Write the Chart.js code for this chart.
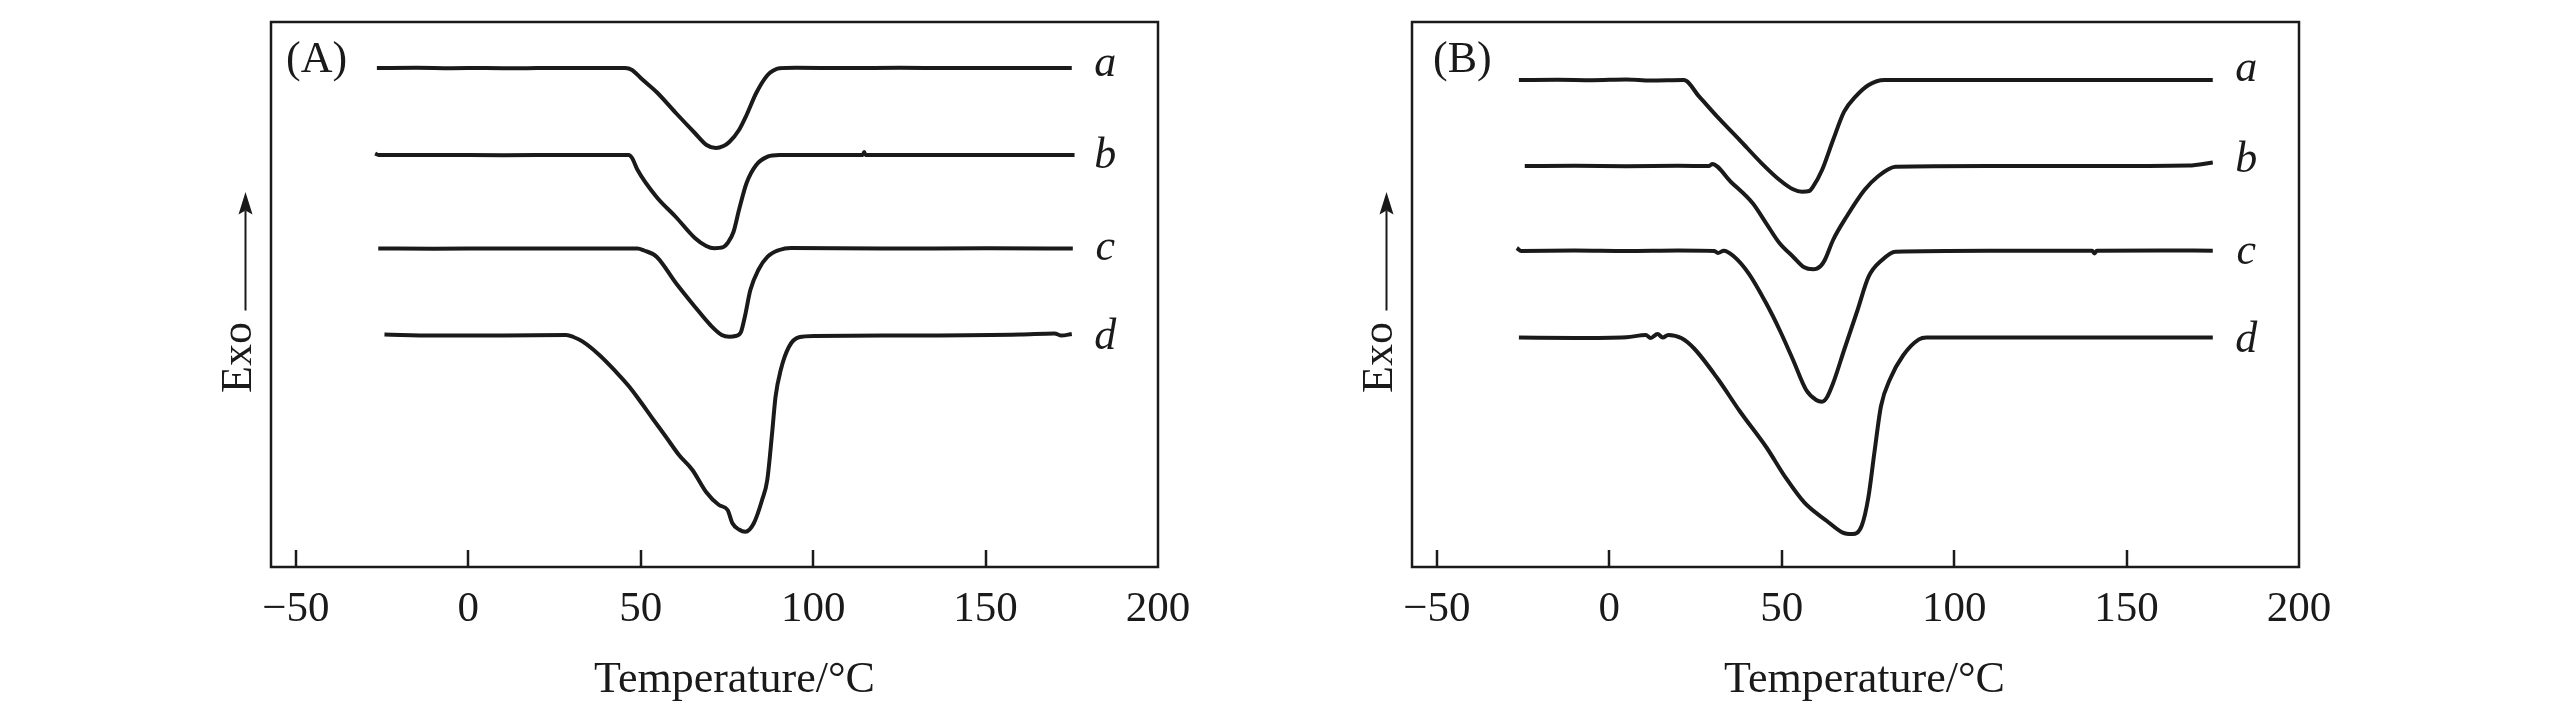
<!DOCTYPE html>
<html><head><meta charset="utf-8">
<script src="https://cdn.jsdelivr.net/npm/chart.js@4.4.0/dist/chart.umd.min.js"></script>
<style>
html,body{margin:0;padding:0;background:#fff;}
#wrap{position:relative;width:2567px;height:724px;background:#fff;}
canvas{position:absolute;top:0;}
</style></head><body>
<div id="wrap"><canvas id="cA" width="1284" height="724" style="left:0"></canvas><canvas id="cB" width="1283" height="724" style="left:1284px"></canvas></div>
<script>
const INK = '#1a1a1a';
const X_MIN = -57.2, X_MAX = 200;
const xTickStep = 50;
const curveNames = ['a', 'b', 'c', 'd'];
const xTitle = 'Temperature/°C';
const yTitle = 'Exo';

// Panel A
const A_a_T = [-26.5, -15, -5, 5, 15, 25, 35, 45.5, 47.5, 50, 54.6, 60.2, 65.7, 69.1, 71.8, 74, 75.7, 78.5, 80.7, 83.5, 86.8, 88.5, 90.2, 95, 110, 125, 140, 155, 175];
const A_a_Y = [49.9, 49.92, 49.88, 49.9, 49.87, 49.91, 49.9, 49.9, 49.7, 48.9, 47.5, 45.4, 43.4, 42.2, 41.9, 42.1, 42.5, 43.7, 45.2, 47.4, 49.2, 49.65, 49.87, 49.92, 49.9, 49.92, 49.89, 49.91, 49.9];
const A_b_T = [-27, -26, -10, 10, 30, 46.5, 47.5, 49.1, 54.6, 60.2, 65.7, 69.0, 71.3, 74, 75.2, 76.9, 78.5, 80.7, 83.5, 86.8, 90.2, 110, 114.4, 114.8, 115.2, 120, 150, 175.8];
const A_b_Y = [41.35, 41.2, 41.2, 41.18, 41.2, 41.2, 40.9, 39.7, 37.0, 35.0, 32.9, 32.1, 31.87, 32.0, 32.4, 33.5, 35.7, 38.4, 40.2, 41.03, 41.2, 41.2, 41.2, 41.5, 41.2, 41.2, 41.2, 41.2];
const A_c_T = [-26.1, -10, 10, 30, 49.0, 51, 54.6, 60.2, 65.7, 70.2, 73.5, 75.7, 77.5, 79.1, 80.2, 81.8, 84.1, 86.8, 90.2, 93.5, 120, 150, 175.3];
const A_c_Y = [31.85, 31.82, 31.86, 31.85, 31.85, 31.65, 31.03, 28.4, 26.03, 24.2, 23.2, 23.03, 23.1, 23.53, 25.03, 27.7, 29.7, 31.03, 31.7, 31.9, 31.85, 31.87, 31.85];
const A_d_T = [-24.3, -10, 10, 28.4, 30.5, 33.2, 38, 42.8, 46.7, 49.6, 53.4, 57.3, 61.1, 65, 68.9, 72.7, 75.2, 76.6, 78.5, 80.4, 82.8, 85.2, 86.7, 88.1, 89.1, 90.6, 93, 95.9, 100.7, 130, 160, 170, 172, 175];
const A_d_Y = [23.25, 23.15, 23.15, 23.2, 23.0, 22.53, 21.2, 19.53, 18.03, 16.7, 14.87, 13.03, 11.2, 9.7, 7.53, 6.2, 5.7, 4.37, 3.75, 3.53, 4.37, 6.7, 8.7, 13.37, 17.03, 19.7, 22.03, 22.97, 23.1, 23.15, 23.25, 23.35, 23.15, 23.3];

// Panel B
const B_a_T = [-26.2, -15, -5, 5, 12, 21.6, 26.1, 31.3, 37.8, 44.2, 49.4, 53.3, 55.9, 58, 59.1, 61.7, 64.9, 68.1, 71.4, 75.2, 79.8, 100, 130, 160, 175];
const B_a_Y = [48.7, 48.72, 48.68, 48.75, 48.65, 48.7, 47.03, 45.03, 42.7, 40.37, 38.7, 37.77, 37.53, 37.6, 38.03, 39.7, 42.7, 45.53, 47.03, 48.2, 48.7, 48.7, 48.7, 48.7, 48.7];
const B_b_T = [-24.5, -10, 5, 20, 29.0, 29.8, 35.2, 41.6, 45.5, 49.4, 53.3, 56.5, 59.1, 61.3, 62.5, 64.9, 68.8, 74, 77.8, 83, 110, 140, 168, 175];
const B_b_Y = [40.1, 40.12, 40.08, 40.12, 40.1, 40.3, 38.53, 36.37, 34.37, 32.37, 31.03, 29.97, 29.77, 30.1, 30.7, 32.7, 35.03, 37.7, 39.03, 40.03, 40.1, 40.1, 40.15, 40.45];
const B_c_T = [-26.8, -25.5, -10, 5, 20, 30.5, 31.5, 33.2, 36, 40.4, 45.5, 49.4, 53.3, 57.1, 60, 61.7, 63, 64.9, 68.1, 72, 75.2, 79.1, 83, 110, 140, 140.7, 141.4, 160, 175];
const B_c_Y = [31.9, 31.6, 31.65, 31.6, 31.65, 31.6, 31.4, 31.63, 31.1, 29.37, 26.37, 23.7, 20.7, 17.7, 16.7, 16.53, 16.9, 18.37, 21.7, 25.7, 29.03, 30.7, 31.53, 31.63, 31.63, 31.35, 31.63, 31.65, 31.63];
const B_d_T = [-26.2, -10, 5, 10.6, 12, 14, 15.5, 17.1, 21, 24.6, 31.5, 37.8, 45.6, 51.1, 56.6, 63.1, 67.7, 70.5, 73.2, 75.1, 76.9, 78.8, 81.5, 85.2, 89.8, 92, 120, 150, 175];
const B_d_Y = [22.95, 22.9, 22.98, 23.2, 22.9, 23.3, 22.95, 23.2, 22.87, 21.85, 18.8, 15.6, 11.95, 8.96, 6.43, 4.6, 3.44, 3.3, 4.13, 6.9, 11.5, 16.1, 18.85, 21.15, 22.76, 22.95, 22.95, 22.95, 22.95];

// curve label anchors
const labelT = 184.7;
const A_labelY = [50.13, 40.93, 31.73, 22.8];
const B_labelY = [49.6, 40.5, 31.3, 22.53];

const SERIF = "'Liberation Serif', 'Times New Roman', serif";

const decor = {
  id: 'decor',
  afterDraw(chart, args, o) {
    const {ctx, chartArea: ca} = chart;
    const x = chart.scales.x, y = chart.scales.y;
    ctx.save();
    ctx.strokeStyle = INK; ctx.fillStyle = INK;
    ctx.lineWidth = 2.5;
    ctx.strokeRect(ca.left, ca.top, ca.right - ca.left, ca.bottom - ca.top);
    // inward ticks
    x.ticks.forEach(t => {
      if (t.value >= x.max) return;
      const px = Math.round(x.getPixelForValue(t.value));
      ctx.beginPath(); ctx.moveTo(px, ca.bottom); ctx.lineTo(px, ca.bottom - 17); ctx.stroke();
    });
    // panel tag
    ctx.font = '44px ' + SERIF; ctx.textAlign = 'left'; ctx.textBaseline = 'alphabetic';
    ctx.fillText(o.tag, ca.left + o.tagDx, ca.top + 50);
    // curve labels
    ctx.font = 'italic 44px ' + SERIF; ctx.textAlign = 'center';
    curveNames.forEach((s, i) => ctx.fillText(s, x.getPixelForValue(labelT), y.getPixelForValue(o.labelY[i]) + 10));
    // x title
    ctx.font = '44px ' + SERIF; ctx.textAlign = 'center';
    ctx.fillText(xTitle, (ca.left + ca.right) / 2 + o.titleDx, 692);
    // y title with arrow
    const cy = (ca.top + ca.bottom) / 2;
    const bx = ca.left - 20;
    ctx.save();
    ctx.translate(bx, cy + 98.5);
    ctx.rotate(-Math.PI / 2);
    ctx.textAlign = 'left';
    ctx.fillText(yTitle, 0, 0);
    ctx.restore();
    const ax = ca.left - 25.5;
    ctx.lineWidth = 2;
    ctx.beginPath(); ctx.moveTo(ax, cy + 16); ctx.lineTo(ax, cy - 84); ctx.stroke();
    ctx.beginPath(); ctx.moveTo(ax, cy - 102.5); ctx.lineTo(ax - 7, cy - 80); ctx.lineTo(ax, cy - 84); ctx.lineTo(ax + 7, cy - 80); ctx.closePath(); ctx.fill();
    ctx.restore();
  }
};

function makeChart(id, series, o) {
  return new Chart(document.getElementById(id), {
    type: 'scatter',
    data: {
      datasets: series.map(([T, Y], i) => ({
        label: curveNames[i],
        data: T.map((t, k) => ({x: t, y: Y[k]})),
        showLine: true, borderColor: INK, borderWidth: 4,
        pointRadius: 0, pointHoverRadius: 0,
        cubicInterpolationMode: 'monotone', fill: false
      }))
    },
    options: {
      responsive: false, animation: false, devicePixelRatio: 1,
      layout: {padding: {left: o.padL, right: o.padR, top: 22, bottom: 0}},
      plugins: {legend: {display: false}, tooltip: {enabled: false}, decor: o},
      scales: {
        x: {
          type: 'linear', min: X_MIN, max: X_MAX,
          afterFit: s => { s.height = 157; },
          grid: {display: false, drawTicks: false}, border: {display: false},
          ticks: {
            stepSize: xTickStep, includeBounds: false, padding: 17, maxRotation: 0, autoSkip: false,
            color: INK, font: {family: SERIF, size: 43},
            callback: v => String(v).replace('-', '\u2212')
          }
        },
        y: {
          min: 0, max: 54.5,
          afterFit: s => { s.width = 0; },
          ticks: {display: false}, grid: {display: false, drawTicks: false}, border: {display: false}
        }
      }
    },
    plugins: [decor]
  });
}

makeChart('cA', [[A_a_T, A_a_Y], [A_b_T, A_b_Y], [A_c_T, A_c_Y], [A_d_T, A_d_Y]],
  {padL: 271, padR: 126, tag: '(A)', tagDx: 15, titleDx: 20, labelY: A_labelY});
makeChart('cB', [[B_a_T, B_a_Y], [B_b_T, B_b_Y], [B_c_T, B_c_Y], [B_d_T, B_d_Y]],
  {padL: 128, padR: 268, tag: '(B)', tagDx: 21, titleDx: 9, labelY: B_labelY});
</script>
</body></html>
